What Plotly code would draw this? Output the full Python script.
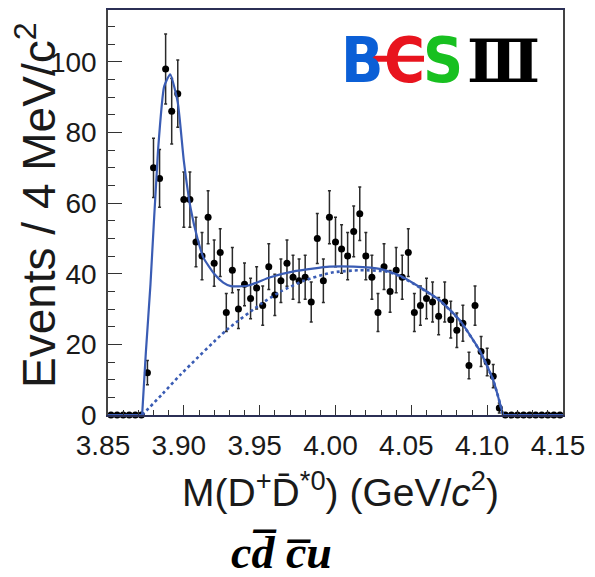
import numpy as np
import plotly.graph_objects as go

# ---- data ----
bin_lo = 3.85
bin_width = 0.004
counts = [0, 0, 0, 0, 0, 0,
          12, 70, 67, 98, 86, 91, 61, 61, 49, 45, 56, 43, 46, 29,
          41, 30, 37, 33, 36, 31, 42, 34, 38, 43, 39, 38, 39, 32,
          50, 38, 56, 49, 47, 45, 52, 57, 45, 39, 29, 42, 35, 41,
          39, 46, 29, 31, 33, 32, 28, 32, 27, 24, 26, 14, 31, 18,
          15, 11, 2,
          0, 0, 0, 0, 0, 0, 0, 0, 0, 0]

fit_x = [3.8725, 3.875, 3.878, 3.883, 3.887, 3.891, 3.896, 3.900, 3.9045, 3.909,
         3.913, 3.920, 3.926, 3.931, 3.942, 3.957, 3.974, 3.996, 4.012, 4.030,
         4.043, 4.056, 4.069, 4.082, 4.095, 4.104, 4.1105]
fit_y = [0, 18, 37, 75, 93, 96.5, 88.5, 72, 58.5, 50,
         44.5, 40, 37.5, 36.5, 36.6, 39, 40.8, 42, 42, 41.3,
         39.4, 36.1, 32.4, 26.8, 18.3, 9.9, 0]
zero_x = [3.85, 3.8725, 4.1105, 4.15]
zero_y = [0, 0, 0, 0]

bkg_x = [3.8725, 3.886, 3.898, 3.928, 3.951, 3.964, 3.979, 3.997, 4.016, 4.034,
         4.043, 4.056, 4.069, 4.082, 4.095, 4.104, 4.1105]
bkg_y = [0, 6, 11.5, 24, 31.5, 35, 38, 40.3, 41, 40.6,
         39.2, 36, 32.3, 26.7, 18.2, 9.8, 0]

x_ticks = [3.85, 3.90, 3.95, 4.00, 4.05, 4.10, 4.15]
y_ticks = [0, 20, 40, 60, 80, 100]

centers = [bin_lo + bin_width * (i + 0.5) for i in range(len(counts))]
errors = [float(np.sqrt(c)) for c in counts]

# ---- geometry helpers (pixel -> paper) ----
W, H = 595, 577
L, R, T, B = 108, 32, 8, 162
PW, PH = W - L - R, H - T - B


def px(x):
    return (x - L) / PW


def py(y):
    return (H - B - y) / PH


BLUE = "#3a5cb4"
fig = go.Figure()

fig.add_trace(go.Scatter(
    x=centers, y=counts, mode="markers",
    marker=dict(color="black", size=7, symbol="circle"),
    error_y=dict(type="data", array=errors, visible=True,
                 color="#2a2a2a", thickness=1.5, width=1.5),
    cliponaxis=False, showlegend=False))

fig.add_trace(go.Scatter(
    x=bkg_x, y=bkg_y, mode="lines",
    line=dict(color=BLUE, width=2.6, dash="dot", shape="spline", smoothing=0.6),
    showlegend=False))

fig.add_trace(go.Scatter(
    x=zero_x[:2], y=zero_y[:2], mode="lines",
    line=dict(color=BLUE, width=2), cliponaxis=False, showlegend=False))
fig.add_trace(go.Scatter(
    x=zero_x[2:], y=zero_y[2:], mode="lines",
    line=dict(color=BLUE, width=2), cliponaxis=False, showlegend=False))

fig.add_trace(go.Scatter(
    x=fit_x, y=fit_y, mode="lines",
    line=dict(color=BLUE, width=2.2, shape="spline", smoothing=0.5),
    cliponaxis=False, showlegend=False))

axis_font = dict(family="Liberation Sans, Arial, sans-serif", size=28, color="#1a1a1a")

fig.update_layout(
    width=W, height=H,
    margin=dict(l=L, r=R, t=T, b=B),
    paper_bgcolor="white", plot_bgcolor="white",
    showlegend=False,
    xaxis=dict(
        range=[3.85, 4.15], tickvals=x_ticks,
        ticktext=[f"{v:.2f}" for v in x_ticks],
        ticks="inside", ticklen=10, tickwidth=1.3, tickcolor="#333",
        minor=dict(dtick=0.01, ticks="inside", ticklen=5, tickwidth=1.2, tickcolor="#333"),
        showline=True, linecolor="#2b2f55", linewidth=2, mirror=True,
        showgrid=False, zeroline=False,
        tickfont=axis_font, ticklabelshift=-5, ticklabelstandoff=4),
    yaxis=dict(
        range=[0, 114.7], tickvals=y_ticks,
        ticks="inside", ticklen=14, tickwidth=1.3, tickcolor="#333",
        minor=dict(dtick=5, ticks="inside", ticklen=7, tickwidth=1.2, tickcolor="#333"),
        showline=True, linecolor="#444", linewidth=1.5, mirror=True,
        showgrid=False, zeroline=False,
        tickfont=axis_font, ticklabelstandoff=4),
)

# axis titles
fig.add_annotation(
    text="Events / 4 MeV/c<sup>2</sup>", textangle=-90,
    xref="paper", yref="paper", x=px(36), y=py(204),
    showarrow=False, xanchor="center", yanchor="middle",
    font=dict(family="Liberation Sans, Arial, sans-serif", size=46, color="#1a1a1a"))

fig.add_annotation(
    text="M(D<sup>+</sup>D\u0304<sup>*0</sup>) (GeV/<i>c</i><sup>2</sup>)",
    xref="paper", yref="paper", x=px(340), y=py(490),
    showarrow=False, xanchor="center", yanchor="middle",
    font=dict(family="Liberation Sans, Arial, sans-serif", size=39, color="#1a1a1a"))

# quark content label
fig.add_annotation(
    text="<b><i>cd\u0305 c\u0305u</i></b>",
    xref="paper", yref="paper", x=px(281), y=py(553),
    showarrow=False, xanchor="center", yanchor="middle",
    font=dict(family="Liberation Serif, serif", size=46, color="black"))

# BESIII logo
logo_font = "DejaVu Sans Condensed, DejaVu Sans, sans-serif"
fig.add_shape(type="line", xref="paper", yref="paper",
              x0=px(349), x1=px(424), y0=py(57), y1=py(57),
              line=dict(color="#e8141e", width=6))
for ch, cx, col in [("B", 362, "#0b5fd6"), ("C", 404, "#e8141e"), ("S", 443, "#18c020")]:
    fig.add_annotation(text=f"<b>{ch}</b>", xref="paper", yref="paper",
                       x=px(cx), y=py(59), showarrow=False,
                       xanchor="center", yanchor="middle", borderpad=0,
                       font=dict(family=logo_font, size=62, color=col))
fig.add_annotation(text="<b>\u2162</b>", xref="paper", yref="paper",
                   x=px(503), y=py(59), showarrow=False,
                   xanchor="center", yanchor="middle", borderpad=0,
                   font=dict(family="DejaVu Serif, serif", size=60, color="black"))

fig.write_html("out.html")
